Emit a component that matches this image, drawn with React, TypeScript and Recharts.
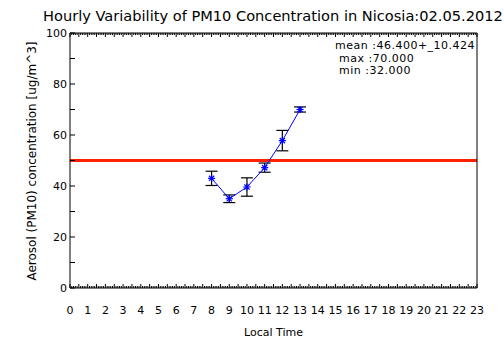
import React from "react";
import { ComposedChart, Line, XAxis, YAxis, ErrorBar, ReferenceLine } from "recharts";

// hourly PM10 means and their spread, Nicosia 02.05.2012
const hours = [8, 9, 10, 11, 12, 13];
const pm10 = [43, 35, 39.6, 47.2, 57.8, 70];
const pm10Err = [2.8, 1.5, 3.6, 1.8, 4, 1];

const concTicks = [0, 10, 20, 30, 40, 50, 60, 70, 80, 90, 100];
const limitValue = 50;
const statLines = ["mean :46.400+_10.424", " max :70.000", " min :32.000"];

const W = 504;
const H = 361;
const FONT = "'DejaVu Sans', sans-serif";

const data = hours.map((h, i) => ({ hour: h, value: pm10[i], err: pm10Err[i] }));

// hour axis ticks, a fine one every tenth of an hour
const hourTicks = Array.from({ length: 231 }, (_, i) => i / 10);

const isWhole = (v: number) => Math.abs(v - Math.round(v)) < 1e-6;
const isHalf = (v: number) => Math.abs(v * 2 - Math.round(v * 2)) < 1e-6;

const BOTTOM_MARGIN = 18;

function BottomTick(props: any) {
  const { x, y, payload } = props;
  const v = payload.value;
  const base = y - BOTTOM_MARGIN;
  const len = isHalf(v) ? 4 : 2;
  return (
    <g>
      <line x1={x} y1={base} x2={x} y2={base - len} stroke="#000" />
      {isWhole(v) && (
        <text x={x} y={y} dy="0.71em" textAnchor="middle" fontSize={11} fontFamily={FONT} fill="#000">
          {Math.round(v)}
        </text>
      )}
    </g>
  );
}

function TopTick(props: any) {
  const { x, y, payload } = props;
  const len = isHalf(payload.value) ? 4 : 2;
  return <line x1={x} y1={y} x2={x} y2={y + len} stroke="#000" />;
}

function LeftTick(props: any) {
  const { x, y, payload } = props;
  const base = x + 3;
  return (
    <g>
      <line x1={base} y1={y} x2={base + 5} y2={y} stroke="#000" />
      {payload.value % 20 === 0 && (
        <text x={x} y={y} dy="0.36em" textAnchor="end" fontSize={11} fontFamily={FONT} fill="#000">
          {payload.value}
        </text>
      )}
    </g>
  );
}

function RightTick(props: any) {
  const { x, y } = props;
  return <line x1={x} y1={y} x2={x - 5} y2={y} stroke="#000" />;
}

function Asterisk(props: any) {
  const { cx, cy } = props;
  if (cx == null || cy == null) return null;
  const r = 3.6;
  const d = 2.6;
  return (
    <g stroke="#0000ff" strokeWidth={1.2}>
      <line x1={cx - r} y1={cy} x2={cx + r} y2={cy} />
      <line x1={cx} y1={cy - r} x2={cx} y2={cy + r} />
      <line x1={cx - d} y1={cy - d} x2={cx + d} y2={cy + d} />
      <line x1={cx - d} y1={cy + d} x2={cx + d} y2={cy - d} />
    </g>
  );
}

export default function App() {
  return (
    <div style={{ position: "absolute", left: 0, top: 0, width: W, height: H, background: "#fff", fontFamily: FONT }}>
      <div
        style={{
          position: "absolute",
          left: 43,
          top: 7,
          fontSize: 14.6,
          lineHeight: "18px",
          color: "#000",
          whiteSpace: "nowrap",
        }}
      >
        Hourly Variability of PM10 Concentration in Nicosia:02.05.2012
      </div>
      <ComposedChart width={W} height={H} data={data} margin={{ top: 32, right: 26, bottom: 33, left: 30 }}>
        <XAxis
          xAxisId="top"
          type="number"
          dataKey="hour"
          domain={[0, 23]}
          ticks={hourTicks}
          interval={0}
          orientation="top"
          height={1}
          tickSize={0}
          tickMargin={0}
          tickLine={false}
          axisLine={{ stroke: "#000" }}
          tick={<TopTick />}
        />
        <XAxis
          xAxisId="hours"
          type="number"
          dataKey="hour"
          domain={[0, 23]}
          ticks={hourTicks}
          interval={0}
          orientation="bottom"
          height={40}
          tickSize={0}
          tickMargin={BOTTOM_MARGIN}
          tickLine={false}
          axisLine={{ stroke: "#000" }}
          tick={<BottomTick />}
        />
        <YAxis
          yAxisId="conc"
          type="number"
          domain={[0, 100]}
          ticks={concTicks}
          interval={0}
          orientation="left"
          width={40}
          tickSize={0}
          tickMargin={3}
          tickLine={false}
          axisLine={{ stroke: "#000" }}
          tick={<LeftTick />}
        />
        <YAxis
          yAxisId="right"
          type="number"
          domain={[0, 100]}
          ticks={concTicks}
          interval={0}
          orientation="right"
          width={1}
          tickSize={0}
          tickMargin={0}
          tickLine={false}
          axisLine={{ stroke: "#000" }}
          tick={<RightTick />}
        />
        <ReferenceLine xAxisId="hours" yAxisId="conc" y={limitValue} stroke="#ff2000" strokeWidth={3} />
        <Line
          xAxisId="hours"
          yAxisId="conc"
          dataKey="value"
          stroke="#0000ff"
          strokeWidth={1}
          dot={<Asterisk />}
          activeDot={false}
          isAnimationActive={false}
        >
          <ErrorBar dataKey="err" direction="y" width={6} stroke="#000" strokeWidth={1.2} isAnimationActive={false} />
        </Line>
      </ComposedChart>
      <div style={{ position: "absolute", left: 70, width: 407, top: 326, textAlign: "center", fontSize: 11, color: "#000" }}>
        Local Time
      </div>
      <div
        style={{
          position: "absolute",
          left: 32,
          top: 161,
          transform: "translate(-50%, -50%) rotate(-90deg)",
          fontSize: 12,
          whiteSpace: "nowrap",
          color: "#000",
        }}
      >
        Aerosol (PM10) concentration [ug/m^3]
      </div>
      <div
        style={{
          position: "absolute",
          left: 335,
          top: 40,
          fontSize: 11,
          letterSpacing: 0.5,
          lineHeight: "12.5px",
          color: "#000",
          whiteSpace: "pre",
        }}
      >
        {statLines.map((s) => (
          <div key={s}>{s}</div>
        ))}
      </div>
    </div>
  );
}
